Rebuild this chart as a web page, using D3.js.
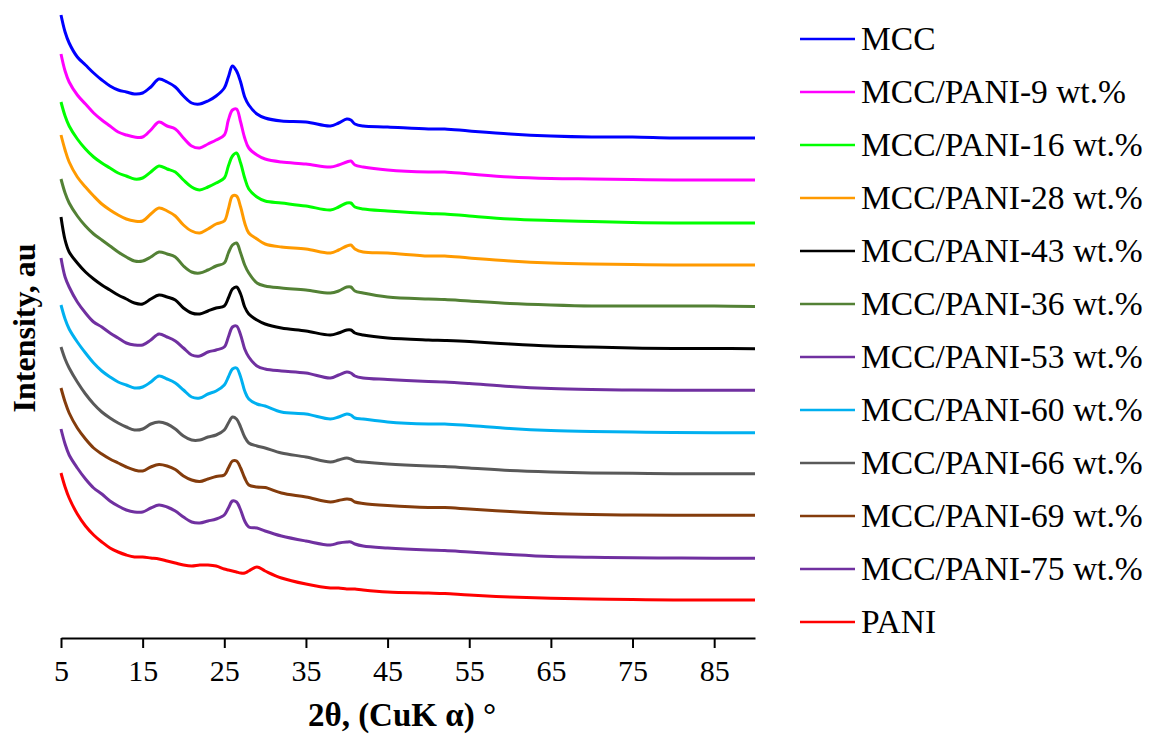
<html>

<head>
    <script src="https://d3js.org/d3.v7.min.js"></script>
    <style>
        body {
            margin: 0;
            background: #fff;
        }

        svg text {
            font-family: "Liberation Serif", "Times New Roman", serif;
        }

        .axis .domain,
        .axis line {
            stroke: #000;
            stroke-width: 2;
        }
    </style>
</head>

<body>
    <svg width="1151" height="736"></svg>

    <script>
        const twoTheta = [5, 5.5, 6, 7, 8, 9, 10, 11, 12, 13, 14, 15, 16, 17, 18, 19, 20, 21, 22, 23, 24, 25,
            25.5, 26, 26.5, 27, 27.5, 28, 29, 30, 32, 35, 38, 39, 40, 40.5, 41, 42,
            45, 50, 52, 55, 60, 65, 70, 75, 80, 85, 90];

        // stacked intensities (au), one array per sample
        const mcc = [622, 605, 594, 580, 572, 564, 557, 551, 547, 545, 543, 544, 550, 558, 555, 550, 541, 534, 533, 536, 541, 549,
            560, 571, 566, 555, 540, 532, 523, 519, 516, 515, 511, 514, 518, 517, 513, 511,
            510, 508, 508, 506, 503, 501, 500, 500, 499, 499, 499];
        const pani9 = [583, 566, 555, 542, 533, 524, 517, 511, 505, 502, 500, 500, 507, 515, 511, 508, 499, 491, 489, 493, 497, 502,
            517, 527, 528, 515, 499, 489, 482, 478, 475, 473, 470, 472, 475, 476, 472, 470,
            467, 465, 465, 463, 460, 458.5, 458, 457.5, 457, 457, 457];
        const pani16 = [535, 521, 511, 498, 488, 480, 474, 469, 464, 461, 458, 459, 465, 471, 468, 465, 457, 450, 447, 450, 454, 459,
            471, 481, 484, 474, 459, 448, 440, 436, 434, 431, 427, 430, 434, 434, 430, 428,
            426, 423.5, 423, 421, 418, 416.5, 415.5, 414.5, 414, 414, 414];
        const pani28 = [502, 487, 475, 460, 450, 441, 433, 427, 422, 418, 416, 416, 423, 429, 426, 421, 412, 406, 404, 408, 413, 416,
            428, 441, 441, 430, 414, 404, 398, 393, 390, 388, 384, 387, 391, 392, 388, 385,
            384, 381, 381, 379, 376, 374, 373, 372.5, 372, 372, 372];
        const pani43 = [420, 397, 385, 374, 365, 358, 352, 347, 342, 338, 334, 333, 338, 342, 340, 337, 329, 324, 323, 326, 329, 331,
            339, 348, 350, 343, 330, 323, 317, 313, 309, 306, 302, 304, 307, 307, 304, 302,
            299, 297, 296.5, 295.5, 293, 291, 290, 289, 288.5, 288.5, 288.3];
        const pani36 = [458, 444, 434, 421, 411, 403, 397, 391, 385, 380, 376, 376, 380, 385, 383, 380, 371, 365, 364, 367, 371, 374,
            384, 392, 394, 384, 372, 364, 354, 351, 349, 347, 344, 346, 350, 350, 346, 344,
            340, 338, 337.5, 336, 333.5, 332, 331, 331, 331, 331, 330.5];
        const pani53 = [379, 360, 350, 335, 324, 315, 310, 304, 299, 294, 292, 292, 297, 303, 300, 296, 289, 282, 281, 285, 287, 290,
            300, 310, 311, 302, 288, 280, 271, 268, 266, 264, 259, 262, 265, 264, 261, 259,
            257.5, 255.5, 255, 253.5, 250.5, 248.5, 247.5, 247, 246.7, 246.7, 246.7];
        const pani60 = [332, 318, 308, 295, 284, 274, 266, 260, 255, 252, 249, 250, 255, 261, 258, 254, 247, 240, 239, 243, 246, 252,
            260, 268, 269, 260, 246, 238, 233, 231, 225, 223, 218, 220, 223, 222, 219, 218,
            215, 213, 213, 211.5, 208.5, 206.5, 205.5, 205, 204.5, 204.3, 204.3];
        const pani66 = [290, 278, 269, 255, 243, 233, 225, 219, 214, 210, 207, 208, 213, 215, 213, 208, 201, 197, 197, 200, 202, 207,
            214, 220, 218, 210, 200, 194, 191, 189, 184, 180, 175, 177, 179, 178, 176, 175,
            173, 171, 170.5, 169, 166.5, 165, 164, 163.7, 163.3, 163.3, 163.3];
        const pani69 = [249, 235, 224, 209, 198, 189, 183, 178, 174, 170, 167, 166, 170, 172.5, 171, 167.5, 161, 157, 155.5, 158, 160.5, 162,
            169, 176, 176, 169, 159, 152, 150, 149.5, 144, 140, 135, 136.5, 138, 137.5, 135, 133.5,
            131.5, 129.5, 129.5, 128, 125.5, 123.5, 122.5, 122, 121.7, 121.7, 121.7];
        const pani75 = [208, 193, 182, 169, 158, 149, 143, 136, 131, 127, 125, 125, 129, 132, 130, 126, 120, 115, 114, 116, 118, 122,
            129, 136, 135, 127, 116, 110, 109, 106, 101, 96, 92, 94, 95, 95, 93, 91,
            89, 87, 86.5, 85, 82.5, 80.5, 79.7, 79.3, 79, 78.7, 78.7];
        const pani = [164, 150, 139, 123, 111, 102, 95, 89, 85, 82, 80, 80, 79, 78, 76, 74, 72, 71, 72, 72, 71, 68,
            67, 66, 65, 64, 64, 66, 70, 66, 59, 53, 49, 49, 48, 48, 48, 47,
            45, 44, 43.5, 42, 40, 38.7, 38, 37.5, 37, 37, 37];

        const labels = ["MCC", "MCC/PANI-9 wt.%", "MCC/PANI-16 wt.%", "MCC/PANI-28 wt.%", "MCC/PANI-43 wt.%",
            "MCC/PANI-36 wt.%", "MCC/PANI-53 wt.%", "MCC/PANI-60 wt.%", "MCC/PANI-66 wt.%",
            "MCC/PANI-69 wt.%", "MCC/PANI-75 wt.%", "PANI"];
        const colors = ["#0000ff", "#ff00ff", "#00ff00", "#ff9a00", "#000000", "#538135",
            "#7030a0", "#00b0f0", "#595959", "#843c0c", "#7030a0", "#ff0000"];
        const xTicks = [5, 15, 25, 35, 45, 55, 65, 75, 85];

        const seriesValues = [mcc, pani9, pani16, pani28, pani43, pani36, pani53, pani60, pani66, pani69, pani75, pani];

        const svg = d3.select("svg");
        const margins = { top: 12, left: 61, right: 396, bottom: 99 };
        const width = +svg.attr("width");
        const height = +svg.attr("height");
        const chartWidth = width - margins.left - margins.right;
        const chartHeight = height - margins.top - margins.bottom;

        const xScale = d3.scaleLinear().domain([5, 90]).range([0, chartWidth]);
        const yScale = d3.scaleLinear().domain([0, 625]).range([chartHeight, 0]);

        let chartArea = svg.append("g")
            .attr("transform", `translate(${margins.left},${margins.top})`);

        const line = d3.line()
            .x((d, i) => xScale(twoTheta[i]))
            .y(d => yScale(d))
            .curve(d3.curveCatmullRom.alpha(0.5));

        seriesValues.forEach((vals, i) => {
            chartArea.append("path")
                .attr("d", line(vals))
                .attr("fill", "none")
                .attr("stroke", colors[i])
                .attr("stroke-width", 3)
                .attr("stroke-linejoin", "round");
        });

        let bottomAxis = d3.axisBottom(xScale)
            .tickValues(xTicks)
            .tickSize(10)
            .tickSizeOuter(0)
            .tickPadding(12);
        let xAxisG = chartArea.append("g")
            .attr("class", "axis")
            .attr("transform", `translate(0,${chartHeight + 1})`)
            .call(bottomAxis);
        xAxisG.selectAll("text")
            .attr("fill", "#000")
            .style("font-size", "30px");

        svg.append("text")
            .attr("x", 402)
            .attr("y", 726)
            .attr("text-anchor", "middle")
            .style("font-size", "33px")
            .style("font-weight", "bold")
            .text("2θ, (CuK α) °");

        svg.append("text")
            .attr("transform", "translate(35,328) rotate(-90)")
            .attr("text-anchor", "middle")
            .style("font-size", "32px")
            .style("font-weight", "bold")
            .text("Intensity, au");

        // legend
        let legend = svg.append("g").attr("transform", "translate(800,39)");
        labels.forEach((lab, i) => {
            let row = legend.append("g").attr("transform", `translate(0,${i * 53})`);
            row.append("line")
                .attr("x1", 0).attr("x2", 55)
                .attr("stroke", colors[i])
                .attr("stroke-width", 2.5);
            row.append("text")
                .attr("x", 61)
                .attr("y", 11)
                .style("font-size", "33.5px")
                .text(lab);
        });
    </script>
</body>

</html>
